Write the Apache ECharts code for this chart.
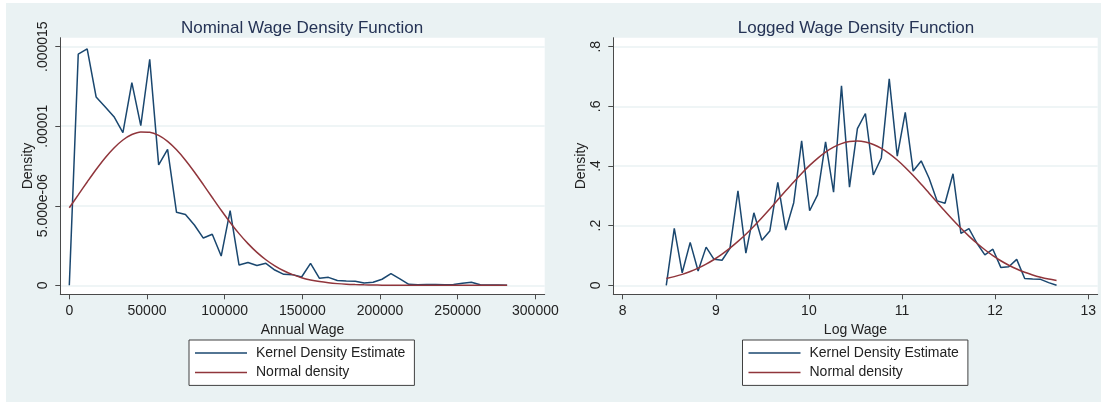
<!DOCTYPE html>
<html>
<head>
<meta charset="utf-8">
<script src="https://cdn.jsdelivr.net/npm/echarts@6/dist/echarts.min.js"></script>
<style>
html,body{margin:0;padding:0;background:#ffffff;}
#bg{position:absolute;left:6px;top:3px;width:1095px;height:399px;background:#eaf2f3;}
#chart{position:absolute;left:0;top:0;width:1101px;height:402px;}
</style>
</head>
<body>
<div id="bg"></div>
<div id="chart"></div>
<script>
// ---------- Data ----------
const titles = ['Nominal Wage Density Function', 'Logged Wage Density Function'];
const seriesNames = ['Kernel Density Estimate', 'Normal density'];

// Left panel: annual wage
const nomX = [0, 5751, 11502, 17253, 23004, 28755, 34506, 40257, 46008, 51759,
  57510, 63261, 69012, 74763, 80514, 86265, 92016, 97767, 103518, 109269,
  115020, 120771, 126522, 132273, 138024, 143775, 149526, 155277, 161028, 166779,
  172530, 178281, 184032, 189783, 195534, 201285, 207036, 212787, 218538, 224289,
  230040, 235791, 241542, 247293, 253044, 258795, 264546, 270297, 276048, 281799];
const nomKde = [0, 1.453e-5, 1.486e-5, 1.184e-5, 1.123e-5, 1.060e-5, 0.960e-5, 1.274e-5, 1.004e-5, 1.421e-5,
  0.757e-5, 0.855e-5, 0.459e-5, 0.445e-5, 0.379e-5, 0.297e-5, 0.321e-5, 0.184e-5, 0.470e-5, 0.127e-5,
  0.143e-5, 0.125e-5, 0.138e-5, 0.096e-5, 0.069e-5, 0.067e-5, 0.052e-5, 0.138e-5, 0.044e-5, 0.050e-5,
  0.030e-5, 0.027e-5, 0.025e-5, 0.014e-5, 0.019e-5, 0.038e-5, 0.073e-5, 0.040e-5, 0.006e-5, 0.004e-5,
  0.005e-5, 0.005e-5, 0.004e-5, 0.005e-5, 0.013e-5, 0.019e-5, 0.004e-5, 0.002e-5, 0.002e-5, 0];
const nomNorm = [0.4874e-5, 0.5682e-5, 0.6495e-5, 0.7282e-5, 0.8008e-5, 0.8637e-5, 0.9135e-5, 0.9478e-5, 0.9645e-5, 0.9626e-5,
  0.9423e-5, 0.9047e-5, 0.8518e-5, 0.7867e-5, 0.7126e-5, 0.6331e-5, 0.5517e-5, 0.4715e-5, 0.3952e-5, 0.3249e-5,
  0.2620e-5, 0.2071e-5, 0.1607e-5, 0.1223e-5, 0.0912e-5, 0.0668e-5, 0.0479e-5, 0.0337e-5, 0.0233e-5, 0.0158e-5,
  0.0105e-5, 0.0068e-5, 0.0044e-5, 0.0027e-5, 0.0017e-5, 0.0010e-5, 0.0006e-5, 0.0003e-5, 0.0002e-5, 0.0001e-5,
  0.0001e-5, 0, 0, 0, 0, 0, 0, 0, 0, 0];
const nomXTicks = [0, 50000, 100000, 150000, 200000, 250000, 300000];
const nomXTickLabels = ['0', '50000', '100000', '150000', '200000', '250000', '300000'];
const nomYTicks = [0, 0.000005, 0.00001, 0.000015];
const nomYTickLabels = ['0', '5.000e-06', '.00001', '.000015'];

// Right panel: log wage
const logX = [8.468, 8.554, 8.639, 8.725, 8.810, 8.896, 8.981, 9.067, 9.152, 9.238,
  9.323, 9.409, 9.495, 9.580, 9.666, 9.751, 9.837, 9.922, 10.008, 10.093,
  10.179, 10.265, 10.350, 10.436, 10.521, 10.607, 10.692, 10.778, 10.863, 10.949,
  11.035, 11.120, 11.206, 11.291, 11.377, 11.462, 11.548, 11.633, 11.719, 11.805,
  11.890, 11.976, 12.061, 12.147, 12.232, 12.318, 12.403, 12.489, 12.575, 12.660];
const logKde = [0, 0.191, 0.042, 0.144, 0.048, 0.128, 0.087, 0.084, 0.124, 0.317,
  0.108, 0.243, 0.151, 0.182, 0.345, 0.185, 0.277, 0.484, 0.250, 0.303,
  0.481, 0.312, 0.669, 0.329, 0.525, 0.576, 0.370, 0.427, 0.692, 0.433,
  0.580, 0.383, 0.417, 0.359, 0.283, 0.275, 0.374, 0.174, 0.190, 0.141,
  0.102, 0.121, 0.060, 0.062, 0.087, 0.023, 0.021, 0.020, 0.009, 0];
const logNorm = [0.0225, 0.0290, 0.0367, 0.0463, 0.0576, 0.0711, 0.0865, 0.1045, 0.1245, 0.1471,
  0.1714, 0.1982, 0.2267, 0.2560, 0.2865, 0.3167, 0.3467, 0.3752, 0.4020, 0.4258,
  0.4465, 0.4631, 0.4750, 0.4821, 0.4840, 0.4807, 0.4723, 0.4591, 0.4416, 0.4200,
  0.3951, 0.3680, 0.3388, 0.3089, 0.2783, 0.2483, 0.2189, 0.1912, 0.1650, 0.1408,
  0.1191, 0.0994, 0.0823, 0.0673, 0.0545, 0.0436, 0.0346, 0.0271, 0.0210, 0.0161];
const logXTicks = [8, 9, 10, 11, 12, 13];
const logXTickLabels = ['8', '9', '10', '11', '12', '13'];
const logYTicks = [0, 0.2, 0.4, 0.6, 0.8];
const logYTickLabels = ['0', '.2', '.4', '.6', '.8'];

// ---------- Styling ----------
const FONT = "'Liberation Sans', Arial, sans-serif";
const NAVY = '#1a476f';
const MAROON = '#90353b';
const AXIS = '#4a4a4a';
const GRIDC = '#eaf2f3';
const TXT = '#222222';

function pair(xs, ys) { return xs.map((x, i) => [x, ys[i]]); }
function lookup(vals, labels) {
  return function (v) {
    let best = 0, bd = Infinity;
    vals.forEach((t, i) => { const d = Math.abs(t - v); if (d < bd) { bd = d; best = i; } });
    return labels[best];
  };
}

function xAxisCfg(gridIndex, min, max, ticks, labels, name) {
  return {
    type: 'value', gridIndex, min, max,
    name, nameLocation: 'middle', nameGap: 19,
    nameTextStyle: { fontFamily: FONT, fontSize: 14, color: TXT },
    axisLine: { show: true, onZero: false, lineStyle: { color: AXIS, width: 1 } },
    axisTick: { show: true, inside: false, length: 5, customValues: ticks, lineStyle: { color: AXIS, width: 1 } },
    axisLabel: { customValues: ticks, formatter: lookup(ticks, labels), margin: 10, fontFamily: FONT, fontSize: 14, color: TXT, hideOverlap: false, showMinLabel: true, showMaxLabel: true },
    splitLine: { show: false }
  };
}
function yAxisCfg(gridIndex, min, max, ticks, labels, name) {
  return {
    type: 'value', gridIndex, min, max,
    name, nameLocation: 'middle', nameGap: 25, nameRotate: 90,
    nameTextStyle: { fontFamily: FONT, fontSize: 14, color: TXT },
    axisLine: { show: true, onZero: false, lineStyle: { color: AXIS, width: 1 } },
    axisTick: { show: true, inside: false, length: 5, customValues: ticks, lineStyle: { color: AXIS, width: 1 } },
    axisLabel: { customValues: ticks, formatter: lookup(ticks, labels), rotate: 90, margin: 10, fontFamily: FONT, fontSize: 14, color: TXT, hideOverlap: false, showMinLabel: true, showMaxLabel: true },
    splitLine: { show: true, lineStyle: { color: GRIDC, width: 1.5 } }
  };
}
function legendCfg(left) {
  return {
    left, top: 340, orient: 'vertical',
    data: seriesNames,
    icon: 'rect', itemWidth: 52, itemHeight: 1.5, itemGap: 3.4,
    backgroundColor: '#ffffff', borderColor: '#404040', borderWidth: 1, borderRadius: 0,
    padding: [5, 9, 5, 6],
    selectedMode: false,
    textStyle: { fontFamily: FONT, fontSize: 14, color: TXT, lineHeight: 16, padding: [0, 0, 0, 4] }
  };
}

const chart = echarts.init(document.getElementById('chart'), null, { renderer: 'canvas' });
chart.setOption({
  animation: false,
  backgroundColor: 'transparent',
  title: [
    { text: titles[0], left: 297, top: 15, textAlign: 'center', textStyle: { fontFamily: FONT, fontSize: 17, fontWeight: 'normal', color: '#253355' } },
    { text: titles[1], left: 851, top: 15, textAlign: 'center', textStyle: { fontFamily: FONT, fontSize: 17, fontWeight: 'normal', color: '#253355' } }
  ],
  legend: [legendCfg(189), legendCfg(742.5)],
  grid: [
    { left: 60.3, top: 37.7, width: 484.4, height: 256.6, show: true, backgroundColor: '#ffffff', borderWidth: 0, containLabel: false },
    { left: 613.3, top: 37.7, width: 484.4, height: 256.6, show: true, backgroundColor: '#ffffff', borderWidth: 0, containLabel: false }
  ],
  xAxis: [
    xAxisCfg(0, -5800, 306000, nomXTicks, nomXTickLabels, 'Annual Wage'),
    xAxisCfg(1, 7.899, 13.102, logXTicks, logXTickLabels, 'Log Wage')
  ],
  yAxis: [
    yAxisCfg(0, -5.66e-7, 1.5566e-5, nomYTicks, nomYTickLabels, 'Density'),
    yAxisCfg(1, -0.0302, 0.8302, logYTicks, logYTickLabels, 'Density')
  ],
  series: [
    { name: seriesNames[0], type: 'line', xAxisIndex: 0, yAxisIndex: 0, data: pair(nomX, nomKde), showSymbol: false, symbol: 'none', color: NAVY, lineStyle: { color: NAVY, width: 1.5 } },
    { name: seriesNames[1], type: 'line', xAxisIndex: 0, yAxisIndex: 0, data: pair(nomX, nomNorm), showSymbol: false, symbol: 'none', smooth: 0.3, color: MAROON, lineStyle: { color: MAROON, width: 1.5 } },
    { name: seriesNames[0], type: 'line', xAxisIndex: 1, yAxisIndex: 1, data: pair(logX, logKde), showSymbol: false, symbol: 'none', color: NAVY, lineStyle: { color: NAVY, width: 1.5 } },
    { name: seriesNames[1], type: 'line', xAxisIndex: 1, yAxisIndex: 1, data: pair(logX, logNorm), showSymbol: false, symbol: 'none', smooth: 0.3, color: MAROON, lineStyle: { color: MAROON, width: 1.5 } }
  ]
});
</script>
</body>
</html>
